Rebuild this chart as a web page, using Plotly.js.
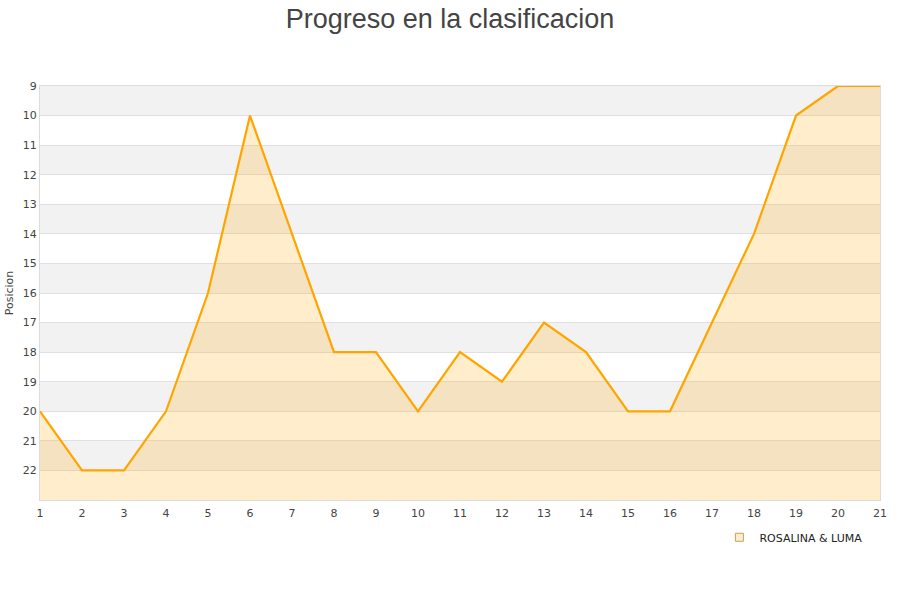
<!DOCTYPE html>
<html>
<head>
<meta charset="utf-8">
<script src="https://cdn.plot.ly/plotly-3.0.1.min.js"></script>
<style>html,body{margin:0;padding:0;background:#fff;}#chart{width:900px;height:600px;}</style>
</head>
<body>
<div id="chart"></div>
<script>
const jornadas = [1,2,3,4,5,6,7,8,9,10,11,12,13,14,15,16,17,18,19,20,21];
const posicion = [20,22,22,20,16,10,14,18,18,20,18,19,17,18,20,20,17,14,10,9,9];
const equipo = "ROSALINA & LUMA";
const yTicks = [9,10,11,12,13,14,15,16,17,18,19,20,21,22];
const yMin = 9, yMax = 23;

const shapes = [];
for (let v = yMin; v < yMax; v += 2) {
  shapes.push({type:'rect', xref:'paper', yref:'y', x0:0, x1:1, y0:v, y1:v+1,
    fillcolor:'#f2f2f2', line:{width:0}, layer:'below'});
}

const traces = [
  {x: jornadas, y: jornadas.map(()=>yMax), mode:'lines', line:{width:0}, hoverinfo:'skip', showlegend:false},
  {x: jornadas, y: posicion, mode:'lines', fill:'tonexty', fillcolor:'rgba(255,165,0,0.2)',
   line:{color:'#ffa500', width:2.2}, name:equipo, showlegend:false},
  {x:[null], y:[null], mode:'markers', name:equipo,
   marker:{symbol:'square', size:8, color:'#ffedcc', line:{color:'#c8a060', width:1}}}
];

const layout = {
  width:900, height:600,
  paper_bgcolor:'#fff', plot_bgcolor:'#fff',
  margin:{l:40, r:20, t:86, b:100},
  title:{text:'Progreso en la clasificacion', font:{family:'Liberation Sans, Arial, sans-serif', size:27, color:'#444'}, x:0.5, xanchor:'center', yref:'container', y:0.985, yanchor:'top'},
  font:{family:'DejaVu Sans, sans-serif', size:11, color:'#444'},
  xaxis:{range:[1,21], tickvals:jornadas, ticktext:jornadas.map(String), showgrid:false, zeroline:false,
    showline:true, linecolor:'#dcdcdc', linewidth:1, mirror:true, ticks:'outside', ticklen:3, tickcolor:'rgba(0,0,0,0)', tickfont:{size:11, color:'#444'}},
  yaxis:{range:[yMax, yMin], tickvals:yTicks, ticktext:yTicks.map(String), showgrid:true, gridcolor:'#e0e0e0', gridwidth:1,
    zeroline:false, showline:true, linecolor:'#dcdcdc', linewidth:1, mirror:true, ticks:'', ticklen:0,
    tickfont:{size:11, color:'#444'},
    title:{text:'Posicion', font:{size:11, color:'#444'}, standoff:6}},
  shapes: shapes,
  showlegend:true,
  legend:{x:0.985, xanchor:'right', y:-0.055, yanchor:'top', orientation:'h', font:{size:11, color:'#222'}, bgcolor:'rgba(0,0,0,0)'}
};
Plotly.newPlot('chart', traces, layout, {displayModeBar:false, staticPlot:true});
</script>
</body>
</html>
